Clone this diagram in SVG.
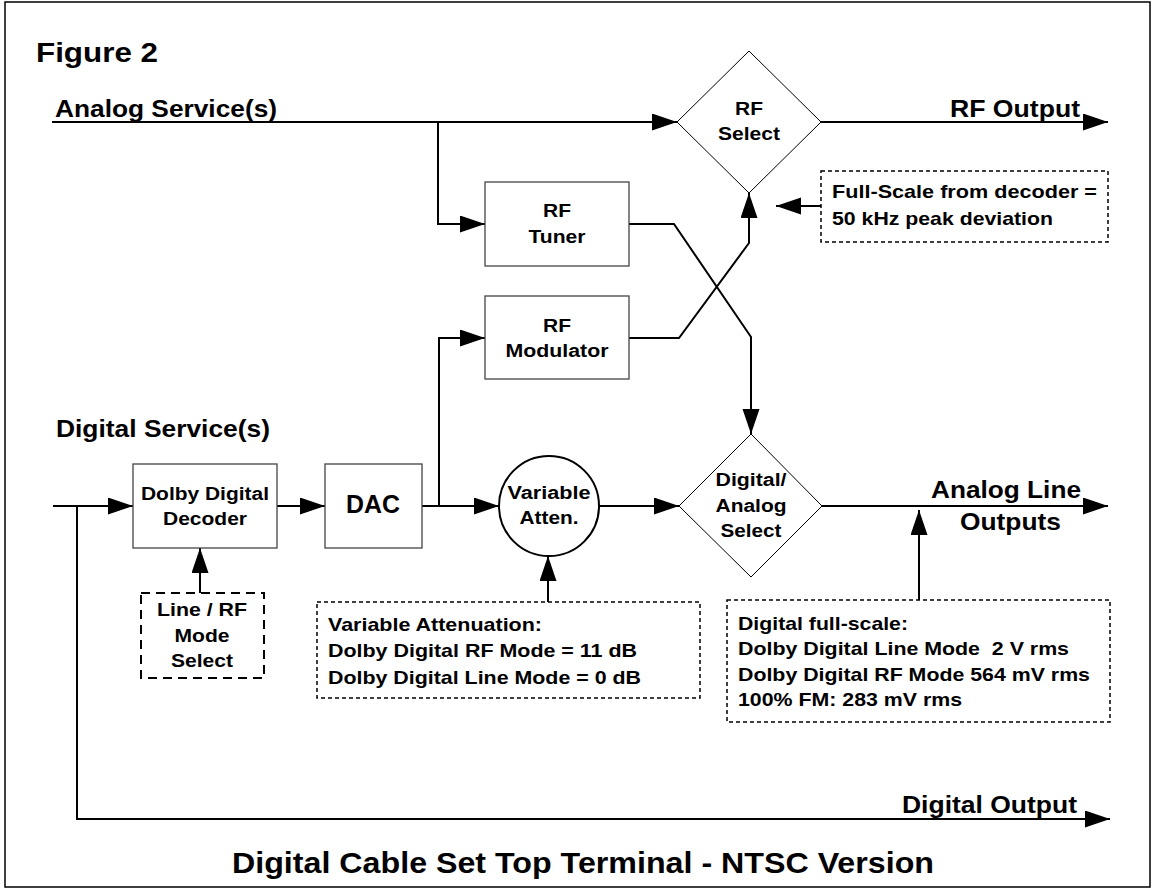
<svg xmlns="http://www.w3.org/2000/svg" width="1155" height="890" viewBox="0 0 1155 890">
<style>
text{font-family:"Liberation Sans",Arial,sans-serif;font-weight:bold;fill:#000}
.lg{font-size:24px}
.md{font-size:18px}
.nt{font-size:19px}
.c{text-anchor:middle}
.box{fill:#fff;stroke:#444;stroke-width:1.3}
.dia{fill:#fff;stroke:#000;stroke-width:1}
.note{fill:#fff;stroke:#000;stroke-width:1.5;stroke-dasharray:4 3}
.note2{fill:#fff;stroke:#000;stroke-width:2;stroke-dasharray:9 6}
.wire{fill:none;stroke:#000;stroke-width:2}
.arr{marker-end:url(#ah)}
</style>
<defs>
<marker id="ah" markerUnits="userSpaceOnUse" markerWidth="26" markerHeight="18" refX="25" refY="8.5" orient="auto">
<path d="M0,0 L25,8.5 L0,17 z" fill="#000"/>
</marker>
</defs>
<rect x="5" y="2" width="1145" height="885" fill="#fff" stroke="#000" stroke-width="1.5"/>
<text x="36" y="62" style="font-size:28px" textLength="122" lengthAdjust="spacingAndGlyphs">Figure 2</text>
<text class="lg" x="55" y="117" textLength="222" lengthAdjust="spacingAndGlyphs">Analog Service(s)</text>
<text class="lg" x="950" y="117" textLength="130" lengthAdjust="spacingAndGlyphs">RF Output</text>
<text class="lg" x="56" y="437" textLength="214" lengthAdjust="spacingAndGlyphs">Digital Service(s)</text>
<text class="lg" x="931" y="498" textLength="150" lengthAdjust="spacingAndGlyphs">Analog Line</text>
<text class="lg" x="960" y="530" textLength="101" lengthAdjust="spacingAndGlyphs">Outputs</text>
<text style="font-size:24px" x="902" y="813" textLength="175" lengthAdjust="spacingAndGlyphs">Digital Output</text>
<text style="font-size:30px" x="232" y="873" textLength="702" lengthAdjust="spacingAndGlyphs">Digital Cable Set Top Terminal - NTSC Version</text>

<g id="connectors">
<path class="wire arr" d="M52,122 H677"/>
<path class="wire arr" d="M438,122 V224 H485"/>
<path class="wire arr" d="M821,122 H1108"/>
<path class="wire arr" d="M629,224 H674 L751,337 V434"/>
<path class="wire arr" d="M629,338 H679 L749,243 V193"/>
<path class="wire arr" d="M821,206 H776"/>
<path class="wire arr" d="M53,506 H133"/>
<path class="wire" d="M77,506 V819"/>
<path class="wire arr" d="M76,819 H1110"/>
<path class="wire arr" d="M277,506 H325"/>
<path class="wire arr" d="M422,506 H499"/>
<path class="wire arr" d="M439,506 V338 H485"/>
<path class="wire arr" d="M599,506 H679"/>
<path class="wire arr" d="M822,506 H1108"/>
<path class="wire arr" d="M200,593 V548"/>
<path class="wire arr" d="M548,602 V556"/>
<path class="wire arr" d="M919,600 V510"/>
</g>

<g id="rf-select">
<polygon class="dia" points="749,51 821,122 749,193 677,122"/>
<text class="md c" x="749" y="115" textLength="28" lengthAdjust="spacingAndGlyphs">RF</text>
<text class="md c" x="749" y="140" textLength="62" lengthAdjust="spacingAndGlyphs">Select</text>
</g>

<g id="rf-tuner">
<rect class="box" x="485" y="182" width="144" height="84"/>
<text class="md c" x="557" y="217" textLength="28" lengthAdjust="spacingAndGlyphs">RF</text>
<text class="md c" x="557" y="243" textLength="57" lengthAdjust="spacingAndGlyphs">Tuner</text>
</g>

<g id="rf-modulator">
<rect class="box" x="485" y="296" width="144" height="83"/>
<text class="md c" x="557" y="332" textLength="28" lengthAdjust="spacingAndGlyphs">RF</text>
<text class="md c" x="557" y="357" textLength="103" lengthAdjust="spacingAndGlyphs">Modulator</text>
</g>

<g id="fullscale-note">
<rect class="note" x="821" y="171" width="287" height="71"/>
<text class="nt" x="832" y="198" textLength="265" lengthAdjust="spacingAndGlyphs">Full-Scale from decoder =</text>
<text class="nt" x="832" y="225" textLength="221" lengthAdjust="spacingAndGlyphs">50 kHz peak deviation</text>
</g>

<g id="decoder">
<rect class="box" x="133" y="464" width="144" height="84"/>
<text class="md c" x="205" y="500" textLength="128" lengthAdjust="spacingAndGlyphs">Dolby Digital</text>
<text class="md c" x="205" y="525" textLength="84" lengthAdjust="spacingAndGlyphs">Decoder</text>
</g>

<g id="dac">
<rect class="box" x="325" y="464" width="97" height="84"/>
<text x="346" y="513" style="font-size:26px" textLength="54" lengthAdjust="spacingAndGlyphs">DAC</text>
</g>

<g id="variable-atten">
<circle cx="549" cy="506" r="50" fill="#fff" stroke="#000" stroke-width="2"/>
<text class="md c" x="549" y="499" textLength="83" lengthAdjust="spacingAndGlyphs">Variable</text>
<text class="md c" x="549" y="524" textLength="59" lengthAdjust="spacingAndGlyphs">Atten.</text>
</g>

<g id="da-select">
<polygon class="dia" points="751,434 822,506 751,577 679,506"/>
<text class="md c" x="751" y="486" textLength="71" lengthAdjust="spacingAndGlyphs">Digital/</text>
<text class="md c" x="751" y="512" textLength="71" lengthAdjust="spacingAndGlyphs">Analog</text>
<text class="md c" x="751" y="537" textLength="61" lengthAdjust="spacingAndGlyphs">Select</text>
</g>

<g id="mode-select">
<rect class="note2" x="141" y="593" width="123" height="85"/>
<text class="md c" x="202" y="616" textLength="90" lengthAdjust="spacingAndGlyphs">Line / RF</text>
<text class="md c" x="202" y="642" textLength="55" lengthAdjust="spacingAndGlyphs">Mode</text>
<text class="md c" x="202" y="667" textLength="62" lengthAdjust="spacingAndGlyphs">Select</text>
</g>

<g id="atten-note">
<rect class="note" x="317" y="602" width="383" height="96"/>
<text class="nt" x="328" y="631" textLength="214" lengthAdjust="spacingAndGlyphs">Variable Attenuation:</text>
<text class="nt" x="328" y="657" textLength="309" lengthAdjust="spacingAndGlyphs">Dolby Digital RF Mode = 11 dB</text>
<text class="nt" x="328" y="684" textLength="313" lengthAdjust="spacingAndGlyphs">Dolby Digital Line Mode = 0 dB</text>
</g>

<g id="fullscale-digital-note">
<rect class="note" x="727" y="600" width="383" height="122"/>
<text class="nt" x="738" y="630" textLength="170" lengthAdjust="spacingAndGlyphs">Digital full-scale:</text>
<text class="nt" x="738" y="655" textLength="331" lengthAdjust="spacingAndGlyphs" xml:space="preserve">Dolby Digital Line Mode  2 V rms</text>
<text class="nt" x="738" y="681" textLength="352" lengthAdjust="spacingAndGlyphs">Dolby Digital RF Mode 564 mV rms</text>
<text class="nt" x="738" y="706" textLength="224" lengthAdjust="spacingAndGlyphs">100% FM: 283 mV rms</text>
</g>
</svg>
